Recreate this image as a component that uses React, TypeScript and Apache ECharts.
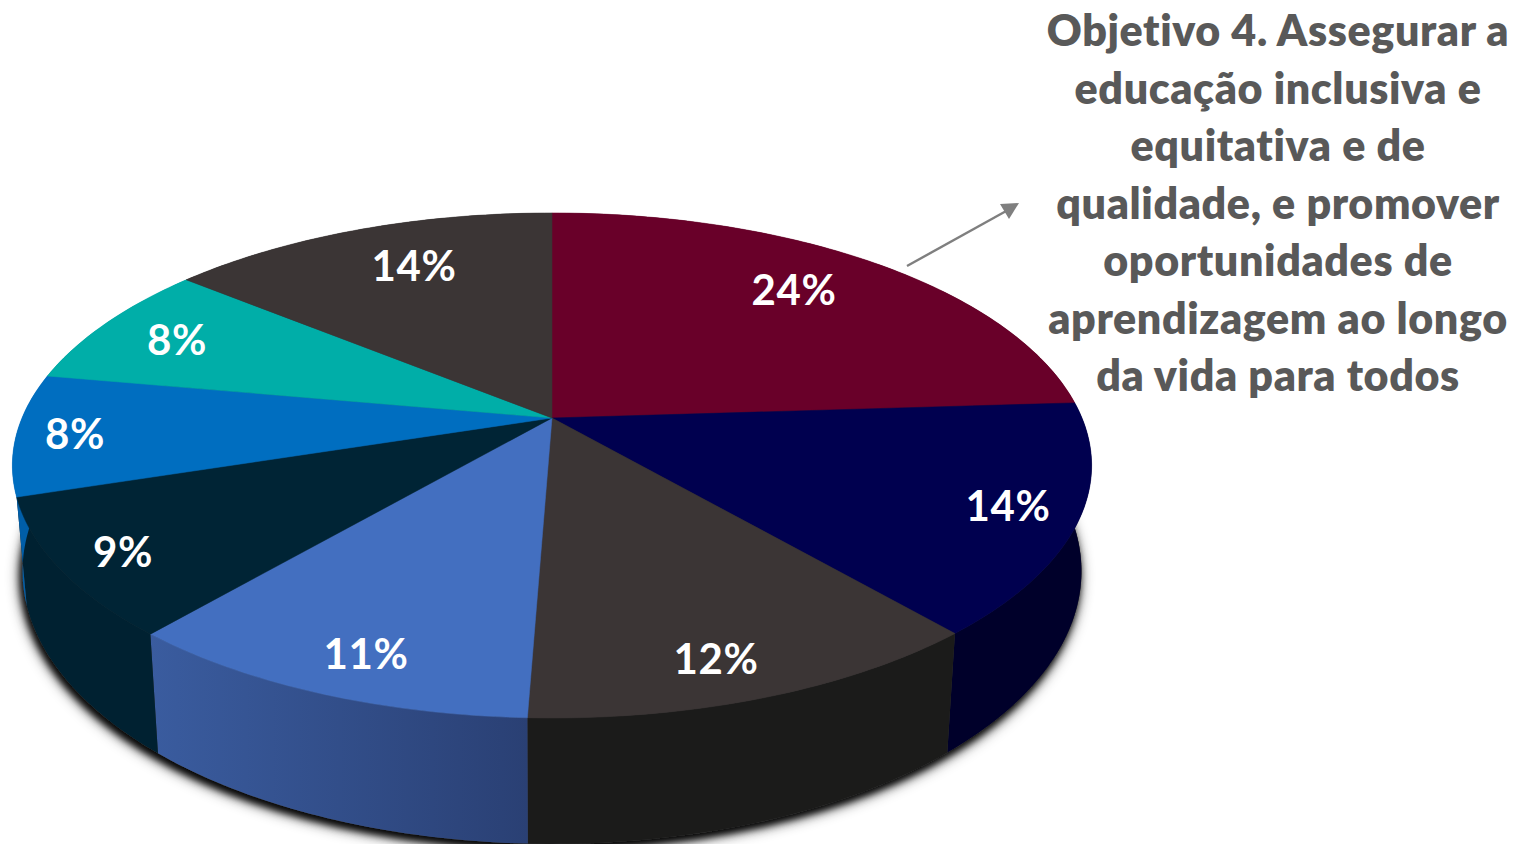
import React, { useEffect, useRef } from "react";
import * as echarts from "echarts";

// Shares read from the angular position of each boundary; labels are the printed percentages.
const sliceNames = ["A", "B", "C", "D", "E", "F", "G", "H"];
const sliceValues = [24, 14.7, 11.9, 10.65, 8.8, 7.8, 8.1, 14.05];
const sliceLabels = ["24%", "14%", "12%", "11%", "9%", "8%", "8%", "14%"];
const topColors = ["#690029", "#00004f", "#3b3535", "#436fc0", "#002435", "#006ec0", "#00aea8", "#3b3535"];
const wallColors = ["#4a001c", "#00002a", "#1b1b1a", "#2f4a86", "#002131", "#005ea8", "#008a85", "#1b1b1a"];
const labelAnchors = [[794, 289], [1008, 505], [716, 658], [366, 653], [123, 551], [75, 433], [177, 339], [414, 265]];

const titleText = [
  "Objetivo 4. Assegurar a",
  "educação inclusiva e",
  "equitativa e de",
  "qualidade, e promover",
  "oportunidades de",
  "aprendizagem ao longo",
  "da vida para todos",
].join("\n");

// Perspective projection of the disc
const CX = 552;
const TOP_CY = 418;
const BOTTOM_CY = 520;
const TOP_A = 530;
const TOP_B = 243.6;
const BOTTOM_A = 520;
const BOTTOM_B = 263;
const K = 0.188;
const FONT = "Lato, Carlito, 'Open Sans', sans-serif";

const total = sliceValues.reduce((s, v) => s + v, 0);
const cumulative = sliceValues.reduce<number[]>((acc, v) => [...acc, acc[acc.length - 1] + v], [0]);

function project(t: number, cy: number, a: number, b: number): number[] {
  const X = Math.sin(t);
  const Y = -Math.cos(t);
  const f = 1 - K * Y;
  return [CX + (a * X) / f, cy + (b * Y) / f];
}
const topPt = (t: number) => project(t, TOP_CY, TOP_A, TOP_B);
const botPt = (t: number) => project(t, BOTTOM_CY, BOTTOM_A, BOTTOM_B);

function arc(from: number, to: number, fn: (t: number) => number[]): number[][] {
  const n = Math.max(4, Math.ceil((to - from) * 60));
  const pts: number[][] = [];
  for (let i = 0; i <= n; i++) pts.push(fn(from + ((to - from) * i) / n));
  return pts;
}
const angleOf = (i: number) => (cumulative[i] / total) * Math.PI * 2;

const rimBase = () => arc(0, Math.PI * 2, botPt);

export default function App() {
  const ref = useRef<HTMLDivElement>(null);
  useEffect(() => {
    const chart = echarts.init(ref.current!, undefined, { renderer: "svg" });
    const data = sliceValues.map((value, i) => ({ name: sliceNames[i], value }));
    chart.setOption({
      animation: false,
      backgroundColor: "#ffffff",
      title: {
        text: titleText,
        left: 1278,
        top: 1,
        textAlign: "center",
        padding: 0,
        textStyle: { color: "#595959", fontFamily: FONT, fontWeight: 800, fontSize: 43, lineHeight: 57.5 },
      },
      graphic: [
        { type: "line", z: 20, shape: { x1: 907, y1: 266, x2: 1008, y2: 210 }, style: { stroke: "#7f7f7f", lineWidth: 2.4 } },
        { type: "polygon", z: 20, shape: { points: [[1019, 203], [1000, 204], [1009, 219]] }, style: { fill: "#7f7f7f" } },
      ],
      series: [
        {
          type: "custom",
          name: "shadow",
          coordinateSystem: "none",
          z: 0,
          silent: true,
          data: [0, 1],
          renderItem: (params: any) => ({
            type: "polygon",
            shape: { points: rimBase() },
            style: {
              fill: "#3a3a3a",
              shadowBlur: params.dataIndex === 0 ? 14 : 7,
              shadowColor: "rgba(0,0,0,0.9)",
              shadowOffsetX: -2,
              shadowOffsetY: 5,
            },
          }),
        },
        {
          type: "custom",
          name: "walls",
          coordinateSystem: "none",
          z: 2,
          silent: true,
          data,
          renderItem: (params: any) => {
            const i = params.dataIndex;
            const a0 = angleOf(i);
            const a1 = angleOf(i + 1);
            const points = [...arc(a0, a1, topPt), ...arc(a0, a1, botPt).reverse()];
            const fill =
              i === 3
                ? new echarts.graphic.LinearGradient(0, 0, 1, 0, [
                    { offset: 0, color: "#3a5c9f" },
                    { offset: 1, color: "#2a4074" },
                  ])
                : wallColors[i];
            return { type: "polygon", shape: { points }, style: { fill } };
          },
        },
        {
          type: "custom",
          name: "top",
          coordinateSystem: "none",
          z: 3,
          silent: true,
          data,
          renderItem: (params: any) => {
            const i = params.dataIndex;
            const points = [[CX, TOP_CY], ...arc(angleOf(i), angleOf(i + 1), topPt)];
            return {
              type: "polygon",
              shape: { points },
              style: { fill: topColors[i], stroke: topColors[i], lineWidth: 0.5 },
            };
          },
        },
        {
          type: "custom",
          name: "labels",
          coordinateSystem: "none",
          z: 4,
          silent: true,
          data,
          renderItem: (params: any) => {
            const i = params.dataIndex;
            return {
              type: "text",
              x: labelAnchors[i][0],
              y: labelAnchors[i][1],
              style: {
                text: sliceLabels[i],
                fill: "#ffffff",
                font: `700 42px ${FONT}`,
                align: "center",
                verticalAlign: "middle",
              },
            };
          },
        },
      ],
    });
    return () => chart.dispose();
  }, []);
  return (
    <div
      ref={ref}
      style={{
        position: "fixed",
        left: 0,
        top: 0,
        width: 1516,
        height: 844,
        fontVariantLigatures: "none",
        letterSpacing: "0.6px",
      }}
    />
  );
}
